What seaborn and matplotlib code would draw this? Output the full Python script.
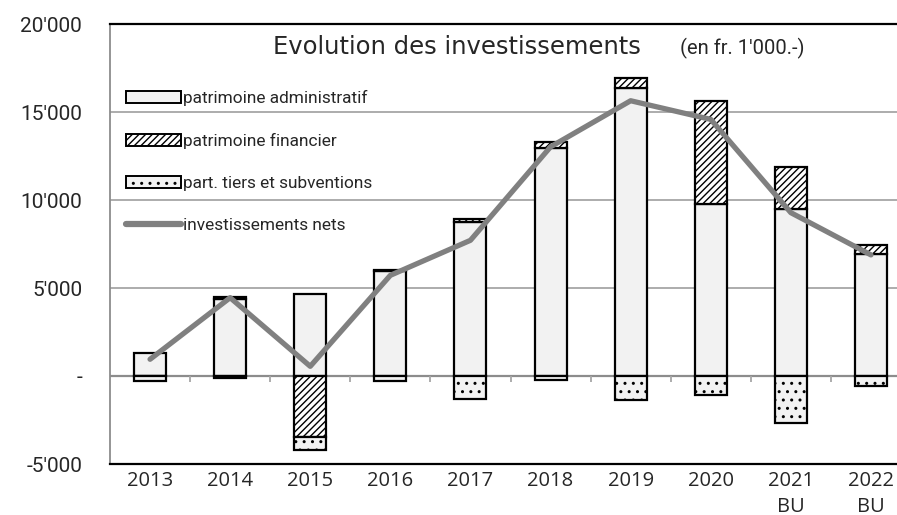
import matplotlib
matplotlib.use("Agg")
import matplotlib.pyplot as plt
import numpy as np
import pandas as pd
import seaborn as sns
from matplotlib.patches import Patch
from matplotlib.lines import Line2D
from matplotlib.ticker import FuncFormatter

years = ["2013", "2014", "2015", "2016", "2017", "2018", "2019", "2020", "2021\nBU", "2022\nBU"]
admin = [1300, 4400, 4650, 5950, 8750, 12930, 16380, 9750, 9500, 6950]
financier = [0, 100, -3450, 50, 150, 380, 530, 5870, 2370, 500]
tiers = [-300, -100, -750, -300, -1300, -200, -1350, -1100, -2650, -550]
nets = [950, 4450, 550, 5720, 7710, 13020, 15640, 14580, 9280, 6880]

df = pd.DataFrame({"annee": years, "admin": admin, "fin": financier,
                   "tiers": tiers, "nets": nets})
df["fin_bottom"] = np.where(df["fin"] > 0, df["admin"], 0)
df["tiers_bottom"] = np.minimum(df["fin"], 0)

sns.set_style("white")
plt.rcParams["font.family"] = ["Open Sans", "DejaVu Sans"]
plt.rcParams["hatch.linewidth"] = 1.0

fig = plt.figure(figsize=(8.97, 5.15), dpi=100)
ax = fig.add_axes([110 / 897, 51 / 515, 801 / 897, 440 / 515])

# grid + zero line under bars
for v in [5000, 10000, 15000]:
    ax.axhline(v, color="#a6a6a6", lw=1.3, zorder=0)
ax.axhline(0, color="#8c8c8c", lw=1.6, zorder=0.5)
ax.vlines(np.arange(0.5, 9.5, 1.0), -330, 0, color="#a6a6a6", lw=1.3, zorder=0.5)

bar_kw = dict(width=0.4, edgecolor="black", linewidth=1.6, zorder=2)
sns.barplot(data=df, x="annee", y="admin", color="#f2f2f2", ax=ax, **bar_kw)
sns.barplot(data=df, x="annee", y="fin", bottom=df["fin_bottom"], color="white",
            hatch="/////", ax=ax, **bar_kw)
sns.barplot(data=df, x="annee", y="tiers", bottom=df["tiers_bottom"], color="#f2f2f2",
            hatch="..", ax=ax, **bar_kw)
sns.lineplot(data=df, x="annee", y="nets", color="#808080", lw=3.8, ax=ax,
             sort=False, zorder=3)

ax.set_xlim(-0.5, 9.5)
ax.set_ylim(-5000, 20000)
ax.set_yticks([-5000, 0, 5000, 10000, 15000, 20000])
ax.yaxis.set_major_formatter(FuncFormatter(
    lambda v, p: "-" if v == 0 else f"{int(v):,}".replace(",", "'")))
ax.set_xlabel("")
ax.set_ylabel("")
ax.tick_params(axis="y", length=5, color="#8c8c8c", width=1.2, pad=15)
ax.tick_params(axis="x", length=0, pad=5)
for lab in ax.get_yticklabels():
    lab.set_family(["Roboto", "DejaVu Sans"])
    lab.set_fontsize(15)
for lab in ax.get_xticklabels():
    lab.set_fontsize(14.5)
    lab.set_linespacing(1.38)

for s in ["top", "bottom"]:
    ax.spines[s].set_color("black")
    ax.spines[s].set_linewidth(1.6)
ax.spines["left"].set_color("#8c8c8c")
ax.spines["left"].set_linewidth(1.3)
ax.spines["right"].set_visible(False)

ax.text(0.2035, 0.948, "Evolution des investissements", transform=ax.transAxes,
        fontsize=17.5, va="center", ha="left", family=["DejaVu Sans"])
ax.text(0.711, 0.945, "(en fr. 1'000.-)", transform=ax.transAxes,
        fontsize=14.5, va="center", ha="left",
        family=["Roboto", "DejaVu Sans"])

handles = [
    Patch(facecolor="#f2f2f2", edgecolor="black", lw=1.4, label="patrimoine administratif"),
    Patch(facecolor="white", edgecolor="black", lw=1.4, hatch="/////", label="patrimoine financier"),
    Patch(facecolor="#f2f2f2", edgecolor="black", lw=1.4, hatch="..", label="part. tiers et subventions"),
    Line2D([0], [0], color="#808080", lw=4.5, solid_capstyle="round", label="investissements nets"),
]
ax.legend(handles=handles, loc="upper left", bbox_to_anchor=(0.011, 0.865),
          frameon=False, handlelength=3.2, handleheight=0.7, handletextpad=0.15,
          labelspacing=1.55, borderaxespad=0,
          prop={"family": ["Roboto", "DejaVu Sans"], "size": 12.4})

fig.savefig("out.png", dpi=100)
